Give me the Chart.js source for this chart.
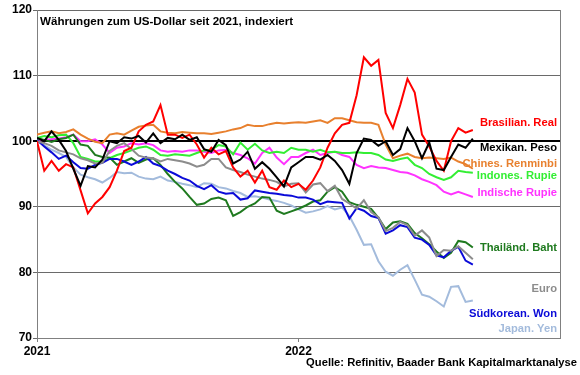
<!DOCTYPE html>
<html>
<head>
<meta charset="utf-8">
<script src="https://cdn.jsdelivr.net/npm/chart.js@4.4.1/dist/chart.umd.min.js"></script>
<style>
  html, body { margin: 0; padding: 0; background: #fff; }
</style>
</head>
<body>
<canvas id="myChart" width="580" height="375"></canvas>
<script>
// dates of the readings (every ~10 days)
var dates = [
  '2021-01-01','2021-01-11','2021-01-21','2021-02-01','2021-02-11','2021-02-21',
  '2021-03-01','2021-03-11','2021-03-21','2021-04-01','2021-04-11','2021-04-21',
  '2021-05-01','2021-05-11','2021-05-21','2021-06-01','2021-06-11','2021-06-21',
  '2021-07-01','2021-07-11','2021-07-21','2021-08-01','2021-08-11','2021-08-21',
  '2021-09-01','2021-09-11','2021-09-21','2021-10-01','2021-10-11','2021-10-21',
  '2021-11-01','2021-11-11','2021-11-21','2021-12-01','2021-12-11','2021-12-21',
  '2022-01-01','2022-01-11','2022-01-21','2022-02-01','2022-02-11','2022-02-21',
  '2022-03-01','2022-03-11','2022-03-21','2022-04-01','2022-04-11','2022-04-21',
  '2022-05-01','2022-05-11','2022-05-21','2022-06-01','2022-06-11','2022-06-21',
  '2022-07-01','2022-07-11','2022-07-21','2022-08-01','2022-08-11','2022-08-21',
  '2022-09-01'
];

//index values, start of 2021 = 100
var brl = [100, 95.5, 97, 95.5, 96.5, 96, 92.5, 89, 90.5, 91.5, 93, 95.5,
  98.5, 99, 101.5, 102.5, 103, 105.5, 101, 101, 100.5, 101, 99.5, 97.5,
  99, 98, 98.5, 96, 94.6, 95.5, 93.7, 95.5, 93, 92.6, 94, 93,
  93.5, 92.6, 94, 96, 99, 101.2, 102.5, 102.8, 107, 112.8, 111.5, 112.4,
  104.3, 102, 105.5, 109.5, 107.4, 101, 99.2, 97, 95.5, 100, 102, 101.3, 101.7];
var mxn = [100.5, 100, 101.5, 100.2, 98.5, 95.8, 93.2, 96.2, 96, 97.2, 100, 99.7,
  100.6, 100.4, 100.8, 99.8, 101.2, 99.7, 100.5, 100.3, 101, 100.2, 100.6, 98.8,
  98.4, 100.2, 99.4, 96.6, 97.2, 98.4, 95.8, 96.8, 95.8, 94.5, 93.1, 96,
  96.8, 97.6, 97.6, 97.2, 97.9, 97, 95.6, 93.5, 98.2, 100.4, 100.2, 99.3,
  100, 97.9, 98.8, 102, 100, 97.4, 99.8, 95.8, 95.6, 97.6, 99.5, 99, 100.4];
var cny = [101, 101.3, 101.5, 101.2, 101.4, 101.8, 101, 100.4, 99.9, 99.7, 101, 101.2,
  101, 101.6, 102.2, 102.4, 102.5, 101.5, 101.3, 101.2, 101.4, 101.3, 101.2, 101.2,
  101.1, 101.3, 101.5, 101.8, 102, 102.5, 102.3, 102.3, 102.6, 102.8, 102.7, 102.8,
  102.9, 102.8, 103, 103.2, 102.8, 103.5, 103.5, 103.2, 102.9, 102.8, 102.8, 102.5,
  99.5, 97.4, 97.8, 98.1, 97.6, 97.4, 97.5, 97.4, 97.3, 97.5, 96.9, 96.5, 95.8];
var idr = [100.5, 100.8, 100.6, 100.9, 101, 99.7, 97.6, 97.3, 96.9, 96.9, 97.4, 97.9,
  98.2, 98.6, 99, 99.2, 98.7, 97.9, 97.8, 98, 97.9, 97.8, 98.2, 98.6,
  98.7, 99.4, 99.2, 98, 99.8, 98.7, 99.6, 98.6, 98.2, 98.4, 98.2, 99,
  98.7, 98.7, 98.4, 98.7, 98.3, 98.4, 98.2, 98.2, 98.3, 98.2, 98.2, 97.9,
  97.2, 97, 97.3, 97.5, 96.4, 95.9, 95, 94.5, 94.1, 94.5, 95.5, 95.3, 95.2];
var inr = [100, 100.2, 100.3, 100.4, 100.6, 101, 100, 100, 100.3, 99.5, 98.2, 99,
  99.2, 99.7, 99.5, 99.7, 99.4, 98.6, 98.4, 98.5, 98.4, 98.6, 98.6, 98.4,
  98.2, 98.6, 98.7, 98.2, 97.9, 97.4, 96.6, 98.2, 99, 97.5, 96.5, 97.6,
  97.6, 98.2, 98.7, 97.9, 98.2, 98.4, 97.9, 97.6, 96.4, 95.9, 96.2, 96,
  95.9, 95.6, 95.3, 95.2, 94.8, 94.2, 93.8, 93.3, 92.3, 91.9, 92.3, 91.9, 91.5];
var thb = [100.5, 100.2, 99.9, 100.3, 100.5, 101, 99.5, 99.3, 97.9, 97.6, 97.5, 96.4,
  96.9, 97.4, 96.7, 97.2, 97.4, 96.4, 95, 93.8, 92.8, 91.5, 90.3, 90.5,
  91.2, 91.4, 91, 88.6, 89.2, 90, 90.5, 91.5, 91.4, 89.4, 88.9, 89.3,
  89.7, 90.2, 90.8, 91, 92.3, 93, 92.3, 90.7, 90.3, 90, 89.7, 88.3,
  86.6, 87.6, 87.8, 87.4, 86, 85.2, 84.3, 83.2, 82.2, 83, 84.8, 84.6, 83.8];
var eur = [100, 99.7, 99.3, 98.6, 98.3, 98, 97.4, 97.1, 96.6, 96.7, 98.5, 99.3,
  99.7, 98.8, 97.8, 97.5, 97.4, 96.9, 97.3, 97.1, 96.9, 96.6, 96.1, 96.4,
  97.3, 97.3, 96, 95.6, 95.3, 94.9, 94.6, 94.3, 94.1, 93.8, 93.1, 93.5,
  93.6, 92.2, 93.4, 93.6, 92.4, 93.2, 91.2, 90.5, 89.7, 91, 89.2, 88.4,
  86.3, 86.8, 87.7, 87.2, 85.6, 86.4, 85.3, 82.5, 83.4, 83.3, 84, 83, 82];
var krw = [100.2, 99.2, 98.3, 97.3, 97.8, 96.8, 95.9, 95.8, 96.4, 96.7, 97.3, 97.3,
  96.9, 96.4, 96.9, 97.6, 96.6, 96.2, 95.5, 95, 94.4, 94, 93.2, 92.7,
  93.3, 92.3, 92, 92.1, 91.1, 91.3, 92.5, 92.3, 92.1, 92, 91.8, 91.7,
  91.4, 91.4, 91.1, 90.4, 90.8, 90.7, 90.6, 88.2, 89.8, 89.4, 88.6, 88.3,
  85.9, 86.4, 87.2, 86.9, 85.3, 85, 84.2, 82.6, 82.3, 83.3, 83.9, 81.8, 81.2];
var jpy = [100, 99.4, 98.7, 98.2, 97.6, 96, 94.9, 94.5, 94.2, 93.7, 94.4, 95.3,
  95.1, 95.2, 94.6, 94.3, 94.2, 94.6, 94, 93.8, 93.5, 93.3, 93, 93.6,
  93.5, 93, 92.8, 92.4, 92.1, 91.5, 91.6, 91.4, 91.1, 90.9, 90.6, 90.2,
  89.6, 89.1, 89.3, 89.6, 90.1, 89.6, 89.9, 88.6, 86.5, 84.2, 84.3, 81.7,
  80.1, 79.5, 80.4, 81.1, 78.9, 76.6, 76.3, 75.6, 74.8, 77.8, 77.9, 75.5, 75.7];

var names = ['Mexikan. Peso', 'Brasilian. Real', 'Chines. Renminbi', 'Euro', 'Südkorean. Won',
  'Thailänd. Baht', 'Indones. Rupie', 'Indische Rupie', 'Japan. Yen'];
var series = [mxn, brl, cny, eur, krw, thb, idr, inr, jpy];
var colors = ['#000000', '#ff0000', '#e8802e', '#8c8c8c', '#0a0ad8',
  '#1f7a1f', '#33ee33', '#ff33ff', '#a3bbdc'];
// where the names sit on the y axis (index value)
var labelAt = [99.0, 102.8, 96.6, 77.5, 73.7, 83.8, 94.7, 92.1, 71.4];

var yTicks = [70, 80, 90, 100, 110, 120];
var xTickLabels = {0: '2021', 12: '2022'};

var FONT = 'Arial, "Liberation Sans", sans-serif';

//date string -> months since start of 2021
function toMonths(d) {
  var p = d.split('-');
  return (Number(p[0]) - 2021) * 12 + (Number(p[1]) - 1) + (Number(p[2]) - 1) / 30;
}

var datasets = series.map(function(vals, k) {
  return {
    label: names[k],
    data: vals.map(function(v, i) { return {x: toMonths(dates[i]), y: v}; }),
    borderColor: colors[k],
    borderWidth: 2,
    pointRadius: 0,
    fill: false,
    tension: 0
  };
});

//texts inside the chart: title, series names, source
var textPlugin = {
  id: 'texts',
  afterDatasetsDraw: function(chart) {
    var c = chart.ctx, a = chart.chartArea, y = chart.scales.y;
    c.save();
    c.font = 'bold 11.6px ' + FONT;
    c.fillStyle = '#000';
    c.textAlign = 'left';
    c.textBaseline = 'middle';
    c.fillText('Währungen zum US-Dollar seit 2021, indexiert', a.left + 3, a.top + 12);

    c.font = 'bold 11.2px ' + FONT;
    c.textAlign = 'right';
    names.forEach(function(n, k) {
      c.fillStyle = colors[k];
      c.fillText(n, a.right - 3, y.getPixelForValue(labelAt[k]));
    });

    c.fillStyle = '#000';
    c.fillText('Quelle: Refinitiv, Baader Bank Kapitalmarktanalyse', chart.width - 3, chart.height - 12);
    c.restore();
  }
};

var ctx = document.getElementById('myChart').getContext('2d');
var myChart = new Chart(ctx, {
  type: 'line',
  data: { datasets: datasets },
  plugins: [textPlugin],
  options: {
    responsive: false,
    animation: false,
    devicePixelRatio: 1,
    layout: { padding: { top: 10, right: 20, left: 0, bottom: 0 } },
    plugins: { legend: { display: false }, tooltip: { enabled: false } },
    scales: {
      x: {
        type: 'linear',
        min: 0,
        max: 24,
        afterBuildTicks: function(s) {
          s.ticks = Object.keys(xTickLabels).map(function(v) { return {value: Number(v)}; });
        },
        afterFit: function(s) { s.height = 37; },
        ticks: {
          autoSkip: false,
          maxRotation: 0,
          padding: 2,
          color: '#000',
          font: { family: FONT, size: 12, weight: 'bold' },
          callback: function(v) { return xTickLabels[v] || ''; }
        },
        grid: { drawOnChartArea: false, drawTicks: true, tickLength: 4, color: '#808080' },
        border: { color: '#808080', width: 1 }
      },
      y: {
        min: 70,
        max: 120,
        afterBuildTicks: function(s) {
          s.ticks = yTicks.map(function(v) { return {value: v}; });
        },
        afterFit: function(s) { s.width = 37; },
        ticks: {
          padding: 1,
          color: '#000',
          font: { family: FONT, size: 12, weight: 'bold' }
        },
        grid: {
          tickLength: 4,
          color: function(c) { return c.tick && c.tick.value === 100 ? '#000' : '#6a6a6a'; },
          lineWidth: function(c) { return c.tick && c.tick.value === 100 ? 2 : 1; }
        },
        border: { color: '#808080', width: 1 }
      },
      y2: {
        position: 'right',
        min: 70,
        max: 120,
        afterFit: function(s) { s.width = 0; },
        ticks: { display: false },
        grid: { display: false },
        border: { display: true, color: '#808080', width: 1 }
      }
    }
  }
});
</script>
</body>
</html>
